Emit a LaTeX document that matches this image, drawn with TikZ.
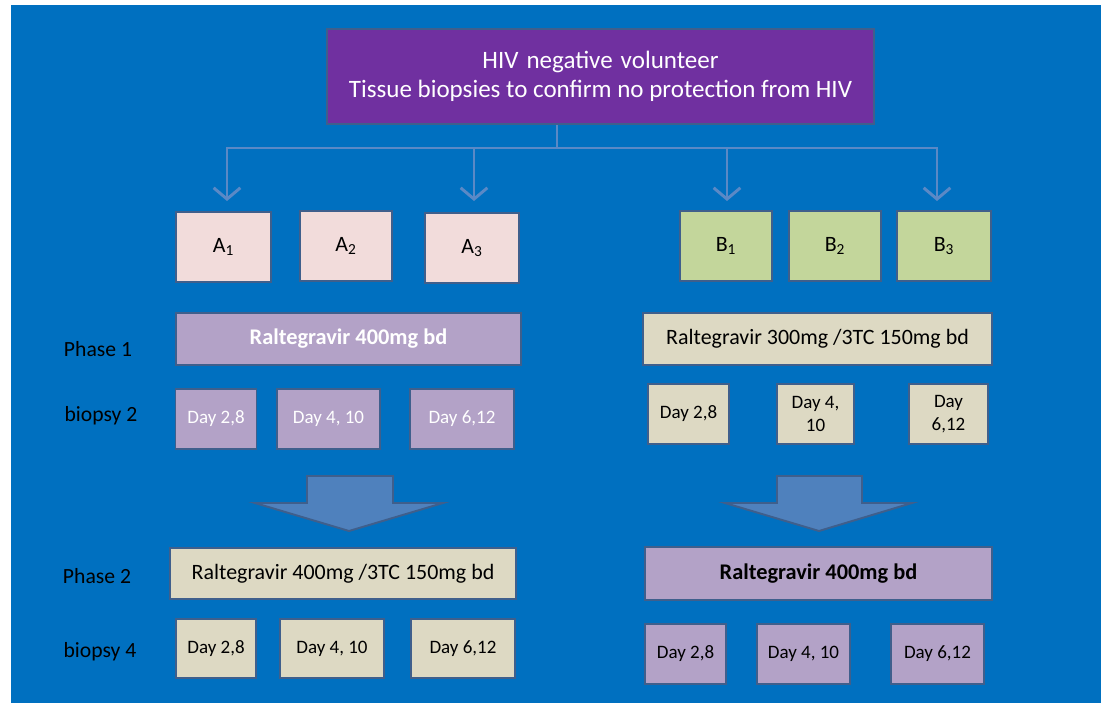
\documentclass[tikz,border=0pt]{standalone}
\usepackage{fontspec}
\setmainfont{Carlito}
\usepackage{xcolor}
\usepackage{tikz}
\usetikzlibrary{arrows.meta}

\definecolor{slide}{HTML}{0070C0}
\definecolor{topviolet}{HTML}{7030A0}
\definecolor{edge}{HTML}{3F5F8C}
\definecolor{armA}{HTML}{F2DCDB}
\definecolor{armB}{HTML}{C3D69B}
\definecolor{lilac}{HTML}{B3A2C7}
\definecolor{tan}{HTML}{DDD9C3}
\definecolor{flow}{HTML}{5A89C6}
\definecolor{blockarrow}{HTML}{4F81BD}

\newcommand\widespaces{\spaceskip=0.32em\relax}

\begin{document}
\begin{tikzpicture}[
      x=0.025cm, y=-0.025cm,
      sz/.style 2 args={minimum width=#1*0.025cm, minimum height=#2*0.025cm},
      box/.style={draw=edge, line width=1.4pt, inner sep=0pt, align=center,
                  font=\fontsize{15.6}{18}\selectfont},
      day/.style={box, font=\fontsize{13.5}{16.5}\selectfont},
      label/.style={font=\fontsize{15.4}{18}\selectfont, text=black},
      link/.style={draw=flow, line width=2.1pt},
      arr/.style={link, -{Straight Barb[length=8pt, width=19pt, line width=2.1pt]}},
      bigarrow/.style={draw=edge, line width=1.4pt, fill=blockarrow}
    ]
      % slide background
      \fill[white] (0,0) rectangle (1105,703);
      \fill[slide] (11,5) rectangle (1101,703);

      % volunteer
      \node[box, sz={547}{95}, fill=topviolet, text=white,
            font=\fontsize{17.8}{21}\selectfont] (vol) at (600.5,76.5)
            {\widespaces HIV negative volunteer\\
             Tissue biopsies to confirm no protection from HIV};

      % groups A and B
      \node[box, sz={95}{70}, fill=armA] (A1) at (223.5,247) {A\textsubscript{1}};
      \node[box, sz={92}{70}, fill=armA] (A2) at (346,246)   {A\textsubscript{2}};
      \node[box, sz={94}{70}, fill=armA] (A3) at (472,248)   {A\textsubscript{3}};
      \node[box, sz={92}{70}, fill=armB] (B1) at (726,246)   {B\textsubscript{1}};
      \node[box, sz={92}{70}, fill=armB] (B2) at (835,246)   {B\textsubscript{2}};
      \node[box, sz={94}{70}, fill=armB] (B3) at (944,246)   {B\textsubscript{3}};

      % split
      \coordinate (bus) at (557,148);
      \coordinate (a1) at (227,201);
      \coordinate (a3) at (474,201);
      \coordinate (b1) at (727,201);
      \coordinate (b3) at (937,201);
      \draw[link] (vol.south -| bus) -- (bus);
      \draw[arr] (bus) -| (a1);
      \draw[arr] (bus) -| (a3);
      \draw[arr] (bus) -| (b1);
      \draw[arr] (bus) -| (b3);

      % phase 1
      \node[label] (ph1) at (98,349) {Phase 1};
      \node[label] (bx2) at (101,416) {biopsy 2};
      \node[box, sz={345}{52}, fill=lilac, text=white,
            font=\fontsize{15.9}{18}\selectfont\bfseries] (drugA1) at (348.5,339)
            {Raltegravir 400mg bd};
      \node[box, sz={349}{52}, fill=tan] (drugB1) at (817.5,339)
            {Raltegravir 300mg /3TC 150mg bd};
      \node[day, sz={81}{60}, fill=lilac, text=white] (dA11) at (216,419)   {Day 2,8};
      \node[day, sz={103}{60}, fill=lilac, text=white] (dA12) at (328.5,419) {Day 4, 10};
      \node[day, sz={104}{60}, fill=lilac, text=white] (dA13) at (462,419)   {Day 6,12};
      \node[day, sz={81}{60}, fill=tan] (dB11) at (688.5,414) {Day 2,8};
      \node[day, sz={77}{60}, fill=tan] (dB12) at (815.5,414) {Day 4,\\10};
      \node[day, sz={79}{60}, fill=tan] (dB13) at (948.5,414) {Day\\6,12};

      % crossover
      \draw[bigarrow] (307,476) -- (393,476) -- (393,503) -- (443,503)
                      -- (349,531) -- (255,503) -- (307,503) -- cycle;
      \draw[bigarrow] (777,476) -- (862,476) -- (862,503) -- (912,503)
                      -- (819,531) -- (725,503) -- (777,503) -- cycle;

      % phase 2
      \node[label] (ph2) at (97,576) {Phase 2};
      \node[label] (bx4) at (100,652) {biopsy 4};
      \node[box, sz={346}{51}, fill=tan] (drugA2) at (343,573.5)
            {Raltegravir 400mg /3TC 150mg bd};
      \node[box, sz={347}{53}, fill=lilac,
            font=\fontsize{15.9}{18}\selectfont\bfseries] (drugB2) at (818.5,573.5)
            {Raltegravir 400mg bd};
      \node[day, sz={80}{59}, fill=tan] (dA21) at (216,648.5) {Day 2,8};
      \node[day, sz={104}{59}, fill=tan] (dA22) at (332,648.5) {Day 4, 10};
      \node[day, sz={104}{59}, fill=tan] (dA23) at (463,648.5) {Day 6,12};
      \node[day, sz={81}{60}, fill=lilac] (dB21) at (685.5,654) {Day 2,8};
      \node[day, sz={93}{60}, fill=lilac] (dB22) at (803.5,654) {Day 4, 10};
      \node[day, sz={93}{60}, fill=lilac] (dB23) at (937.5,654) {Day 6,12};
    \end{tikzpicture}
\end{document}
